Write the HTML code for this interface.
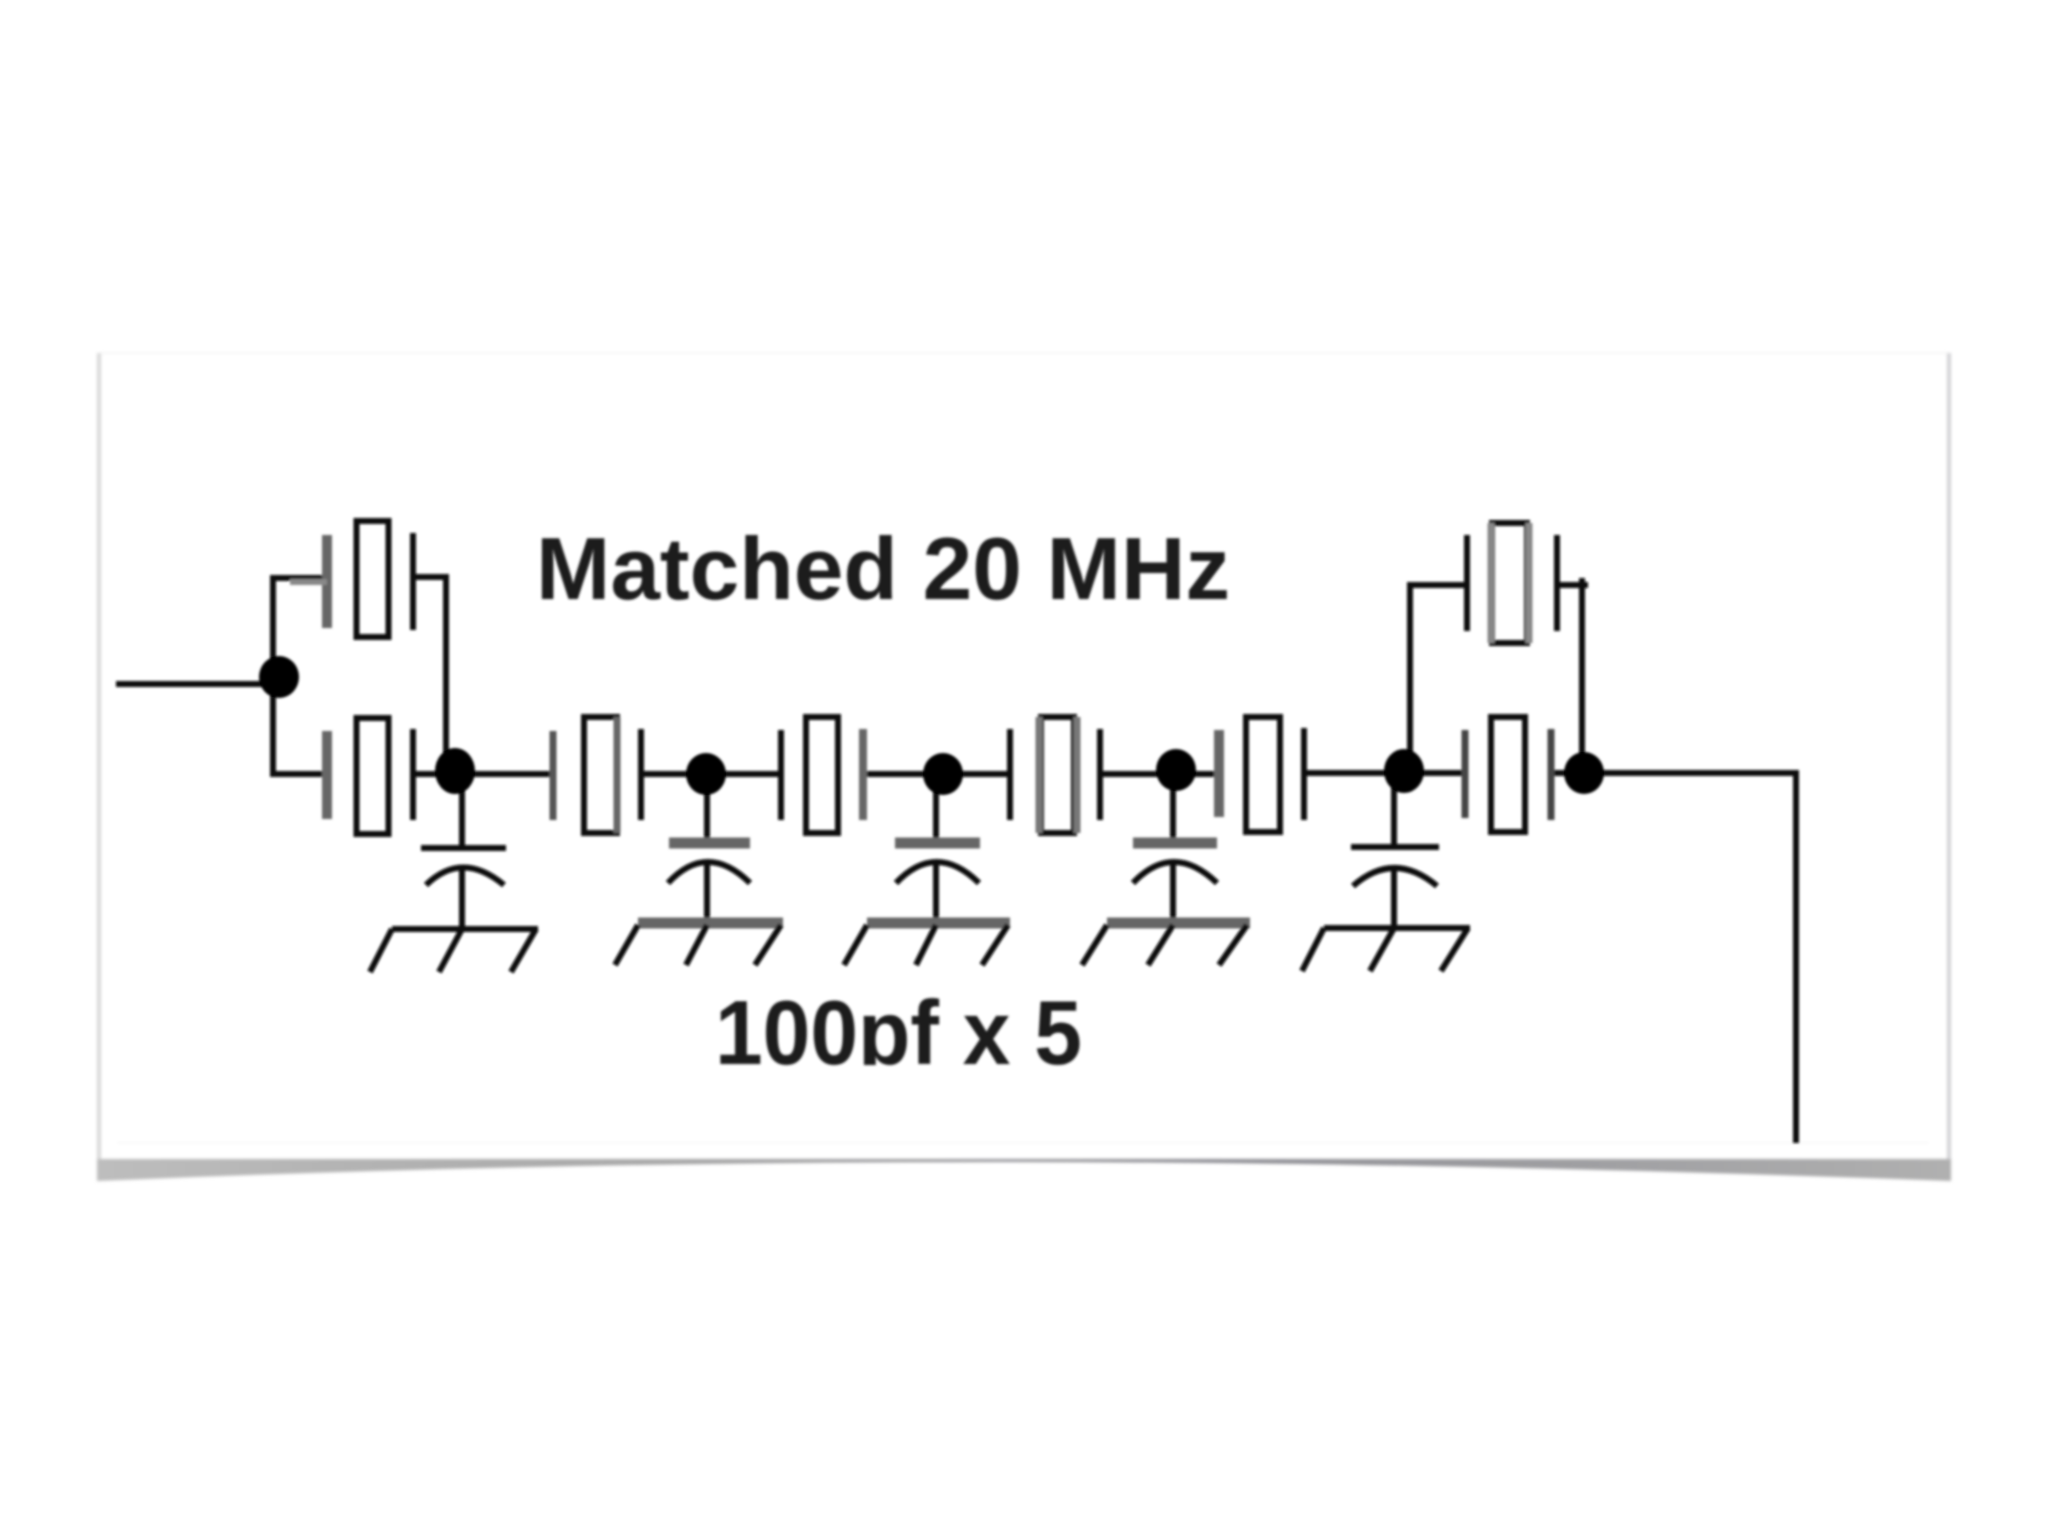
<!DOCTYPE html>
<html lang="en">
<head>
<meta charset="utf-8">
<title>Matched 20 MHz crystal filter</title>
<style>
html,body{margin:0;padding:0;background:#fff;width:2048px;height:1536px;overflow:hidden}
svg{display:block}
</style>
</head>
<body>
<svg width="2048" height="1536" viewBox="0 0 2048 1536" xmlns="http://www.w3.org/2000/svg">
<defs>
<filter id="b1" x="-5%" y="-5%" width="110%" height="110%"><feGaussianBlur stdDeviation="1.2"/></filter>
<filter id="b2" x="-5%" y="-20%" width="110%" height="140%"><feGaussianBlur stdDeviation="1.6"/></filter>
<linearGradient id="sh" x1="0" x2="1" y1="0" y2="0">
<stop offset="0" stop-color="#bdbdbd"/><stop offset=".3" stop-color="#a8a8a8"/><stop offset=".6" stop-color="#8e8e94"/><stop offset="1" stop-color="#b0b0b0"/>
</linearGradient>
<clipPath id="cut"><rect x="700" y="980" width="400" height="85"/></clipPath>
</defs>
<rect width="2048" height="1536" fill="#fff"/>
<!-- panel -->
<g filter="url(#b2)">
<path d="M97 1159 L1951 1159 L1951 1181 C1600 1168 1300 1162 1000 1162 C700 1162 400 1168 97 1181 Z" fill="url(#sh)"/>
<rect x="97" y="353" width="4" height="806" fill="#d8d8d8"/>
<rect x="1947" y="353" width="4" height="806" fill="#d2d2d5"/>
<rect x="101" y="352" width="1846" height="2" fill="#f6f6f6"/>
<rect x="117" y="1142" width="1812" height="1.5" fill="#f6f6f6"/>
</g>
<g filter="url(#b1)" fill="none" stroke="#0a0a0a" stroke-width="6">
<!-- wires -->
<path d="M116 684 H262"/>
<path d="M327 578 H273 V774 H327"/>
<path d="M413 577 H446 V770"/>
<path d="M413 774 H553"/>
<path d="M642 774 H781"/>
<path d="M863 774 H1010"/>
<path d="M1100 774 H1219"/>
<path d="M1304 773 H1465"/>
<path d="M1467 585 H1410 V770"/>
<path d="M1557 585 H1588 M1582 578 V773"/>
<path d="M1551 773 H1796 V1143"/>
<!-- upper left crystal -->
<path d="M327 535 V628" stroke="#666" stroke-width="10"/>
<path d="M327 582 H290" stroke="#888" stroke-width="6"/>
<rect x="356.5" y="521" width="32" height="116"/>
<path d="M413 533 V630"/>
<!-- lower row crystals -->
<path d="M327 731 V819" stroke="#666" stroke-width="10"/>
<rect x="356.5" y="718" width="32" height="116"/>
<path d="M413 729 V820"/>
<path d="M553 731 V820" stroke="#555" stroke-width="7"/>
<rect x="584" y="717" width="33" height="116"/>
<path d="M617 717 V833" stroke="#666" stroke-width="7"/>
<path d="M641 729 V820"/>
<path d="M781 730 V820"/>
<rect x="806" y="717" width="32" height="116"/>
<path d="M863 729 V820" stroke="#666" stroke-width="8"/>
<path d="M1010 729 V820"/>
<rect x="1041" y="717" width="33" height="116"/>
<path d="M1077 717 V833 M1039 717 V833" stroke="#777" stroke-width="7"/>
<path d="M1100 729 V820"/>
<path d="M1219 730 V817" stroke="#666" stroke-width="10"/>
<rect x="1246" y="717" width="34" height="115"/>
<path d="M1304 728 V820"/>
<path d="M1465 730 V818" stroke="#444" stroke-width="7"/>
<rect x="1491" y="717" width="34" height="115"/>
<path d="M1551 729 V820" stroke="#444" stroke-width="7"/>
<!-- upper right crystal -->
<path d="M1467 535 V631"/>
<rect x="1492" y="523" width="35" height="120"/>
<path d="M1491 523 V643 M1529 523 V643" stroke="#888" stroke-width="7"/>
<path d="M1557 535 V631"/>
<!-- caps + grounds -->
<path d="M462 775 V848 M421 848 H506"/>
<path d="M426 885 Q462 850 504 885"/>
<path d="M462 867 V929 M392 929 H538"/>
<path d="M392 929 L370 972 M462 929 L439 972 M536 929 L511 972"/>

<path d="M707 775 V843"/>
<path d="M669 843 H750" stroke="#666" stroke-width="11"/>
<path d="M668 883 Q707 841 750 883"/>
<path d="M707 862 V925"/>
<path d="M638 923 H783" stroke="#666" stroke-width="11"/>
<path d="M638 925 L615 965 M707 925 L686 965 M781 925 L755 965"/>

<path d="M936 775 V843"/>
<path d="M895 843 H980" stroke="#666" stroke-width="11"/>
<path d="M896 883 Q936 841 979 883"/>
<path d="M936 862 V925"/>
<path d="M867 923 H1010" stroke="#666" stroke-width="11"/>
<path d="M867 925 L844 965 M936 925 L916 965 M1008 925 L982 965"/>

<path d="M1173 775 V843"/>
<path d="M1133 843 H1217" stroke="#666" stroke-width="11"/>
<path d="M1133 883 Q1173 841 1217 883"/>
<path d="M1173 862 V925"/>
<path d="M1107 923 H1250" stroke="#666" stroke-width="11"/>
<path d="M1107 925 L1082 965 M1173 925 L1148 965 M1247 925 L1219 965"/>

<path d="M1394 775 V847 M1351 847 H1439"/>
<path d="M1353 886 Q1394 850 1437 886"/>
<path d="M1394 868 V928 M1324 928 H1470"/>
<path d="M1324 928 L1302 971 M1394 928 L1370 971 M1468 928 L1441 971"/>
<!-- nodes -->
<g fill="#000" stroke="none">
<ellipse cx="279" cy="677" rx="20" ry="21"/>
<ellipse cx="455" cy="771" rx="20" ry="23"/>
<ellipse cx="706" cy="774" rx="20" ry="21"/>
<ellipse cx="943" cy="774" rx="20" ry="21"/>
<ellipse cx="1176" cy="770" rx="20" ry="21"/>
<ellipse cx="1404" cy="771" rx="20" ry="22"/>
<ellipse cx="1584" cy="773" rx="20" ry="21"/>
</g>
</g>
<!-- labels -->
<g filter="url(#b1)" font-family="'Liberation Sans',sans-serif" font-weight="700" fill="#1c1c1c">
<text x="536" y="599" font-size="88" textLength="694" lengthAdjust="spacingAndGlyphs">Matched 20 MHz</text>
<g clip-path="url(#cut)"><text x="715" y="1064" font-size="91" textLength="367" lengthAdjust="spacingAndGlyphs">100pf x 5</text></g>
</g>
</svg>
</body>
</html>
